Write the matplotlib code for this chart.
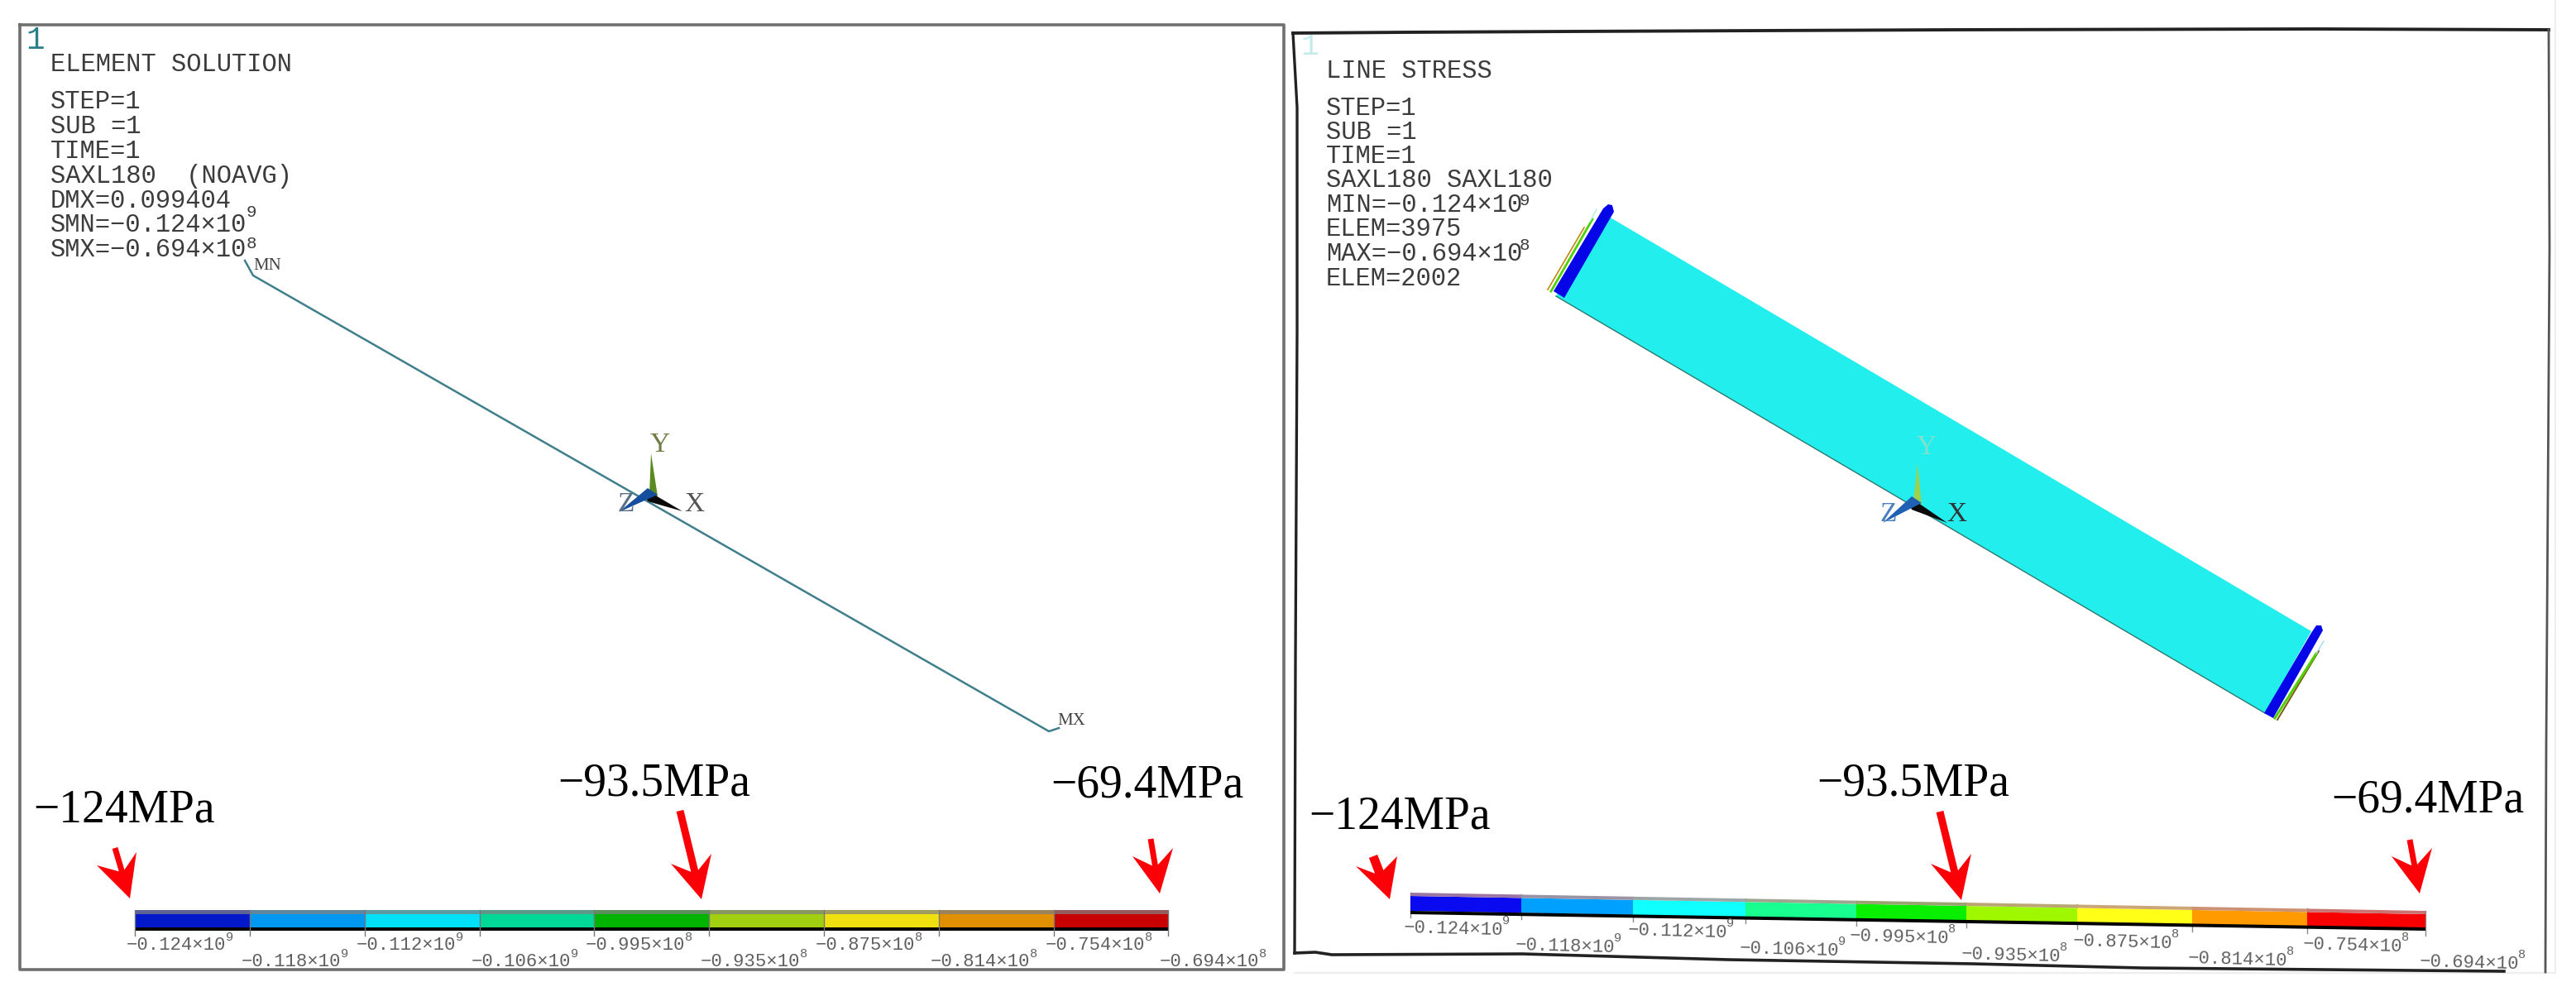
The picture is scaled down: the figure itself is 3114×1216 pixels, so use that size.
import matplotlib
matplotlib.use("Agg")
import matplotlib.pyplot as plt
from matplotlib.patches import Polygon
from matplotlib.colors import to_rgb
import numpy as np

# ---- content ----
left_title = "ELEMENT SOLUTION"
left_lines = ["STEP=1", "SUB =1", "TIME=1", "SAXL180  (NOAVG)", "DMX=0.099404",
              "SMN=\u22120.124\u00d710", "SMX=\u22120.694\u00d710"]
right_title = "LINE STRESS"
right_lines = ["STEP=1", "SUB =1", "TIME=1", "SAXL180 SAXL180", "MIN=\u22120.124\u00d710",
               "ELEM=3975", "MAX=\u22120.694\u00d710", "ELEM=2002"]
level_mant = ["\u22120.124", "\u22120.118", "\u22120.112", "\u22120.106", "\u22120.995",
              "\u22120.935", "\u22120.875", "\u22120.814", "\u22120.754", "\u22120.694"]
level_exp = ["9", "9", "9", "9", "8", "8", "8", "8", "8", "8"]
left_colors = ["#0318c8", "#0098f0", "#00e0f8", "#00d898", "#00b400",
               "#a0d010", "#f0e010", "#e09000", "#c80000"]
right_colors = ["#0a0af0", "#00a0ff", "#10ffff", "#18ff90", "#08f000",
                "#a0f800", "#ffff18", "#ff9a00", "#f80000"]
callouts = ["\u2212124MPa", "\u221293.5MPa", "\u221269.4MPa"]

left_ticks_x = [163, 302, 441, 580, 718, 857, 996, 1135, 1274, 1412]
right_ticks_x = [1705, 1839, 1974, 2110, 2244, 2377, 2511, 2650, 2789, 2932]
right_label_x = [1697, 1832, 1968, 2103, 2236, 2371, 2506, 2645, 2784, 2925]
right_label_y = [1122, 1143, 1125, 1147, 1132, 1154, 1138, 1159, 1142, 1163]

W, H = 3114, 1216
fig = plt.figure(figsize=(W / 100, H / 100), dpi=100, facecolor="white")
ax = fig.add_axes([0, 0, 1, 1])
ax.set_xlim(0, W)
ax.set_ylim(H, 0)
ax.axis("off")

MONO = "Liberation Mono"
SERIF = "Liberation Serif"
TXT = "#3c3c3c"
LBL = "#606060"


def poly(pts, color, z=3, **kw):
    ax.add_patch(Polygon(pts, closed=True, facecolor=color, edgecolor="none", zorder=z, **kw))


def arrow(tail, tip, b1, b2, w=4.5):
    t = np.array(tail, float); p = np.array(tip, float)
    d = (p - t) / np.linalg.norm(p - t)
    n = np.array([-d[1], d[0]])
    notch = p - d * np.linalg.norm(p - np.array(b1)) * 0.62
    poly([t + n * w, notch + n * w, b1, p, b2, notch - n * w, t - n * w], "#fb0007", z=6)


def info(x, title, title_y, lines, ys):
    ax.text(x, title_y, title, family=MONO, fontsize=22, color=TXT, va="center", ha="left")
    for s, y in zip(lines, ys):
        ax.text(x, y, s, family=MONO, fontsize=22, color=TXT, va="center", ha="left")


def triad(c, ytip, xtip, ztip, ycol, zcol="#1f5fb4"):
    c = np.array(c, float)
    poly([c + (-2, 0), ytip, c + (8, 2)], ycol)
    poly([c + (-8, -2), c + (-4, 8), xtip, c + (4, 0)], "#0a0a0a")
    poly([c + (-4, -8), ztip, c + (8, 0)], zcol)


def mix(col, other, f):
    a = np.array(to_rgb(col)); b = np.array(to_rgb(other))
    return tuple(a * (1 - f) + b * f)


# ---- left panel frame ----
ax.plot([24, 1552, 1552, 24, 24], [30, 30, 1172, 1172, 30], color="#6f6f6f", lw=2.6, zorder=2)
ax.text(43, 49, "1", family=MONO, fontsize=27, color="#2a8088", va="center", ha="center")
info(61, left_title, 78, left_lines, [123, 153, 183, 213, 243, 272, 302])
ax.text(304, 257, "9", family=MONO, fontsize=15, color=TXT, va="center", ha="center")
ax.text(304, 295, "8", family=MONO, fontsize=15, color=TXT, va="center", ha="center")

# left model line
ax.plot([296, 306, 1268, 1280], [315, 333, 884, 880], color="#3f7f8c", lw=1.8, zorder=3)
ax.text(323, 322, "MN", family=SERIF, fontsize=15, color="#444444", va="center", ha="center")
ax.text(1295, 872, "MX", family=SERIF, fontsize=15, color="#444444", va="center", ha="center")

triad((787, 598), (787, 548), (825, 618), (748, 619), "#5a8a20", "#154f9e")
ax.text(798, 538, "Y", family=SERIF, fontsize=24, color="#6f7d45", va="center", ha="center")
ax.text(839, 610, "X", family=SERIF, fontsize=24, color="#555555", va="center", ha="center")
ax.text(757, 610, "Z", family=SERIF, fontsize=24, color="#5a6f85", va="center", ha="center")

# left legend bar
for i, col in enumerate(left_colors):
    x0, x1 = left_ticks_x[i], left_ticks_x[i + 1]
    ax.bar(x0, 16, width=x1 - x0, bottom=1105, align="edge", color=col, zorder=3)
    ax.bar(x0, 5, width=x1 - x0, bottom=1100, align="edge", color=mix(col, "#808080", 0.72), zorder=3)
ax.bar(left_ticks_x[0], 4, width=left_ticks_x[-1] - left_ticks_x[0], bottom=1121, align="edge",
       color="#000000", zorder=3)
for i, tx in enumerate(left_ticks_x):
    ax.plot([tx, tx], [1100, 1131], color="#777777", lw=1.0, zorder=3)
    ly = 1142 if i % 2 == 0 else 1162
    ax.text(tx - 10, ly, level_mant[i] + "\u00d710", family=MONO, fontsize=16, color=LBL,
            va="center", ha="left")
    ax.text(tx + 115, ly - 9, level_exp[i], family=MONO, fontsize=11, color=LBL,
            va="center", ha="center")

# left callouts
for s, (x, y) in zip(callouts, [(150, 979), (791, 948), (1387, 950)]):
    ax.text(x, y, s, family=SERIF, fontsize=40, color="black", va="center", ha="center", zorder=6)
arrow((139, 1025), (157, 1086), (117, 1046), (165, 1030), w=3.5)
arrow((822, 980), (848, 1087), (811, 1044), (860, 1032), w=4.5)
arrow((1391, 1014), (1402, 1080), (1369, 1035), (1418, 1025), w=3.5)

# ---- right panel frame ----
top_x = [1563, 1700, 1900, 2360, 2800, 3081]
top_y = [40, 39, 38, 36, 35, 36]
right_x = [3081, 3082, 3080, 3078, 3077]
right_y = [36, 300, 600, 900, 1175]
bottom_x = [1565, 1590, 1610, 1840, 2090, 2385, 2590, 3027]
bottom_y = [1152, 1151, 1154, 1153, 1160, 1165, 1170, 1174]
left_x = [1563, 1568, 1568, 1566, 1565]
left_y = [40, 130, 400, 800, 1152]
ax.plot([1565, 3089, 3089], [1176, 1176, 0], color="#eeeeee", lw=1.6, zorder=1)
for xs, ys, c, lw in [(top_x, top_y, "#222222", 2.8), (left_x, left_y, "#222222", 2.4),
                      (bottom_x, bottom_y, "#222222", 2.6), (right_x, right_y, "#555555", 2.0)]:
    ax.plot(xs, ys, color=c, lw=lw, zorder=2)
ax.text(1583, 57, "1", family=MONO, fontsize=26, color="#c4ecec", va="center", ha="center")
info(1603, right_title, 86, right_lines, [131, 160, 189, 218, 248, 277, 307, 337])
ax.text(1843, 242, "9", family=MONO, fontsize=15, color=TXT, va="center", ha="center")
ax.text(1843, 297, "8", family=MONO, fontsize=15, color=TXT, va="center", ha="center")

# right model
poly([(1945, 262), (2794, 763), (2738, 862), (1881, 358)], "#22eeee", z=3)
ax.plot([1881, 2738], [358, 862], color="#2a7a70", lw=1.0, zorder=3)
# left end stripes and band
ax.plot([1871, 1915], [350, 275], color="#c08a10", lw=1.2, zorder=3)
ax.plot([1875, 1925], [352, 265], color="#50d000", lw=2.0, zorder=3)
ax.plot([1922, 1930], [268, 253], color="#a8f0e0", lw=1.0, zorder=3)
poly([(1878, 352), (1891, 360), (1951, 256), (1949, 248), (1944, 247), (1938, 252)], "#0505e8", z=4)
# right end stripes and band
ax.plot([2753, 2803], [870, 787], color="#7a5a10", lw=1.4, zorder=3)
ax.plot([2750, 2800], [868, 790], color="#50d000", lw=2.2, zorder=3)
ax.plot([2800, 2809], [790, 775], color="#a0d8f0", lw=1.0, zorder=3)
poly([(2737, 862), (2748, 868), (2808, 762), (2806, 756), (2800, 756), (2794, 765)], "#0505e8", z=4)

triad((2315, 608), (2318, 560), (2354, 632), (2276, 632), "#9ed24a")
ax.text(2329, 541, "Y", family=SERIF, fontsize=24, color="#7fe0d0", va="center", ha="center", zorder=5)
ax.text(2365, 622, "X", family=SERIF, fontsize=24, color="#333333", va="center", ha="center", zorder=5)
ax.text(2283, 622, "Z", family=SERIF, fontsize=24, color="#4f80c0", va="center", ha="center", zorder=5)

# right legend bar (skewed)
tx = np.array(right_ticks_x, float)
slope = (1101 - 1079) / (tx[-1] - tx[0])
top_edge = 1079 + (tx - tx[0]) * slope
for i, col in enumerate(right_colors):
    a, b = tx[i], tx[i + 1]
    ta, tb = top_edge[i], top_edge[i + 1]
    poly([(a, ta + 4), (b, tb + 4), (b, tb + 22), (a, ta + 22)], col)
    poly([(a, ta), (b, tb), (b, tb + 4), (a, ta + 4)], mix(col, "#c09090", 0.8))
poly([(tx[0], top_edge[0] + 22), (tx[-1], top_edge[-1] + 20), (tx[-1], top_edge[-1] + 24), (tx[0], top_edge[0] + 26)], "#000000")
for i in range(10):
    ax.plot([tx[i], tx[i]], [top_edge[i], top_edge[i] + 30], color="#888888", lw=1.0, zorder=2)
    ax.text(right_label_x[i], right_label_y[i], level_mant[i] + "\u00d710", family=MONO, fontsize=16,
            color=LBL, va="center", ha="left", rotation=-1.5, rotation_mode="anchor")
    ax.text(right_label_x[i] + 124, right_label_y[i] - 9, level_exp[i], family=MONO, fontsize=11,
            color=LBL, va="center", ha="center")

for s, (x, y) in zip(callouts, [(1692, 988), (2313, 948), (2935, 967)]):
    ax.text(x, y, s, family=SERIF, fontsize=40, color="black", va="center", ha="center", zorder=6)
arrow((1660, 1035), (1680, 1087), (1639, 1047), (1689, 1035), w=5.5)
arrow((2345, 981), (2371, 1088), (2334, 1044), (2383, 1032), w=4.5)
arrow((2913, 1015), (2925, 1080), (2891, 1035), (2940, 1025), w=3.5)

fig.savefig("out.png", dpi=100, facecolor="white")
